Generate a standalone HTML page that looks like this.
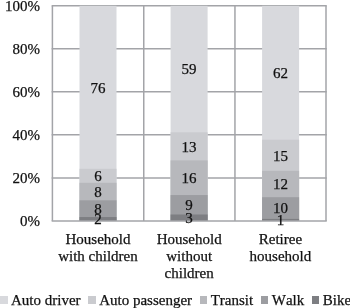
<!DOCTYPE html>
<html><head><meta charset="utf-8"><style>
html,body{margin:0;padding:0;background:#fff;}
body{width:350px;height:308px;position:relative;overflow:hidden;font-family:"Liberation Serif",serif;font-size:15px;color:#111;font-kerning:none;}
svg{position:absolute;left:0;top:0;}
.t{position:absolute;left:0;top:0;width:350px;height:308px;will-change:transform;-webkit-text-stroke:0.25px #111;}
.yl{position:absolute;left:0;width:40px;text-align:right;line-height:20px;height:20px;white-space:nowrap;}
.bl{position:absolute;width:60px;text-align:center;line-height:20px;height:20px;}
.cl{position:absolute;top:230.5px;width:100px;text-align:center;line-height:17.4px;}
.lt{position:absolute;white-space:nowrap;line-height:17px;}
.mk{position:absolute;width:7.5px;height:7.5px;}
</style></head><body>
<svg width="350" height="308" viewBox="0 0 350 308">
<g stroke="#a3a4a8" stroke-width="1.5" fill="none">
<line x1="51.65" x2="326.75" y1="177.88" y2="177.88"/>
<line x1="51.65" x2="326.75" y1="134.86" y2="134.86"/>
<line x1="51.65" x2="326.75" y1="91.84" y2="91.84"/>
<line x1="51.65" x2="326.75" y1="48.82" y2="48.82"/>
<line x1="51.65" x2="326.75" y1="5.80" y2="5.80"/>
<line x1="52.40" x2="52.40" y1="5.80" y2="220.90"/>
<line x1="143.75" x2="143.75" y1="5.80" y2="220.90"/>
<line x1="234.95" x2="234.95" y1="5.80" y2="220.90"/>
<line x1="326.00" x2="326.00" y1="5.80" y2="220.90"/>
</g>
<rect x="79.50" y="5.80" width="37.0" height="215.10" fill="#d8d9dd"/>
<rect x="79.50" y="168.80" width="37.0" height="52.10" fill="#cacbcf"/>
<rect x="79.50" y="182.80" width="37.0" height="38.10" fill="#b7b8bc"/>
<rect x="79.50" y="200.30" width="37.0" height="20.60" fill="#9c9da1"/>
<rect x="79.50" y="217.05" width="37.0" height="3.85" fill="#7d7e82"/>
<rect x="170.60" y="5.80" width="37.0" height="215.10" fill="#d8d9dd"/>
<rect x="170.60" y="132.30" width="37.0" height="88.60" fill="#cacbcf"/>
<rect x="170.60" y="160.40" width="37.0" height="60.50" fill="#b7b8bc"/>
<rect x="170.60" y="195.05" width="37.0" height="25.85" fill="#9c9da1"/>
<rect x="170.60" y="214.50" width="37.0" height="6.40" fill="#7d7e82"/>
<rect x="262.10" y="5.80" width="37.0" height="215.10" fill="#d8d9dd"/>
<rect x="262.10" y="139.70" width="37.0" height="81.20" fill="#cacbcf"/>
<rect x="262.10" y="170.80" width="37.0" height="50.10" fill="#b7b8bc"/>
<rect x="262.10" y="197.20" width="37.0" height="23.70" fill="#9c9da1"/>
<rect x="262.10" y="218.90" width="37.0" height="2.00" fill="#7d7e82"/>
<line x1="51.65" x2="326.75" y1="220.90" y2="220.90" stroke="#a3a4a8" stroke-width="1.5"/>
</svg>
<div class="t">
<div class="yl" style="top:210.90px">0%</div>
<div class="yl" style="top:167.88px">20%</div>
<div class="yl" style="top:124.86px">40%</div>
<div class="yl" style="top:81.84px">60%</div>
<div class="yl" style="top:38.82px">80%</div>
<div class="yl" style="top:-4.20px">100%</div>
<div class="bl" style="left:68.00px;top:209.38px">2</div>
<div class="bl" style="left:68.00px;top:199.08px">8</div>
<div class="bl" style="left:68.00px;top:181.95px">8</div>
<div class="bl" style="left:68.00px;top:166.20px">6</div>
<div class="bl" style="left:68.00px;top:77.70px">76</div>
<div class="bl" style="left:159.10px;top:208.10px">3</div>
<div class="bl" style="left:159.10px;top:195.18px">9</div>
<div class="bl" style="left:159.10px;top:168.13px">16</div>
<div class="bl" style="left:159.10px;top:136.75px">13</div>
<div class="bl" style="left:159.10px;top:59.45px">59</div>
<div class="bl" style="left:250.60px;top:210.30px">1</div>
<div class="bl" style="left:250.60px;top:198.45px">10</div>
<div class="bl" style="left:250.60px;top:174.40px">12</div>
<div class="bl" style="left:250.60px;top:145.65px">15</div>
<div class="bl" style="left:250.60px;top:63.15px">62</div>
<div class="cl" style="left:48.00px">Household<br>with children</div>
<div class="cl" style="left:139.20px">Household<br>without<br>children</div>
<div class="cl" style="left:230.40px">Retiree<br>household</div>
<div class="mk" style="left:0.10px;top:296.3px;background:#d8d9dd"></div>
<div class="lt" style="left:11.00px;top:291.8px">Auto driver</div>
<div class="mk" style="left:88.28px;top:296.3px;background:#cacbcf"></div>
<div class="lt" style="left:99.18px;top:291.8px">Auto passenger</div>
<div class="mk" style="left:199.79px;top:296.3px;background:#b7b8bc"></div>
<div class="lt" style="left:210.69px;top:291.8px">Transit</div>
<div class="mk" style="left:260.89px;top:296.3px;background:#9c9da1"></div>
<div class="lt" style="left:271.79px;top:291.8px">Walk</div>
<div class="mk" style="left:311.97px;top:296.3px;background:#7d7e82"></div>
<div class="lt" style="left:322.87px;top:291.8px">Bike</div>
</div>
</body></html>
